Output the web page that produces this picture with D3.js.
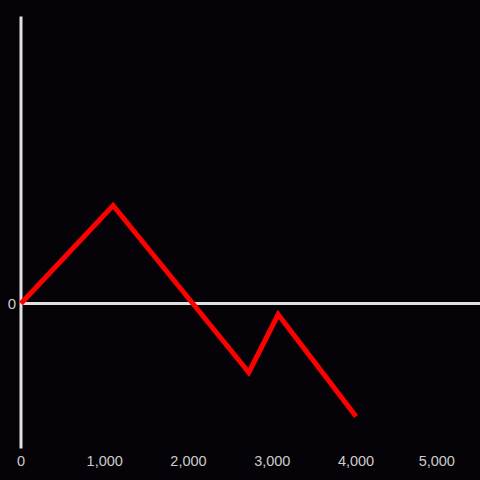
<!DOCTYPE html>
<html>
<head>
<meta charset="utf-8">
<script src="https://cdn.jsdelivr.net/npm/d3@7"></script>
<style>
  body { margin: 0; background: #050307; }
  text { font-family: "Liberation Sans", Arial, sans-serif; }
</style>
</head>
<body>
<div id="chart"></div>
<script>
// data
var xValues = [0, 1100, 2720, 3070, 4000];
var yValues = [0, 0.98, -0.69, -0.11, -1.13];
var xTicks = [0, 1000, 2000, 3000, 4000, 5000];
var yTicks = [0];

var w = 480, h = 480;

var svg = d3.select("#chart")
  .append("svg")
  .attr("width", w)
  .attr("height", h)
  .style("background", "#050307");

var x = d3.scaleLinear().domain([0, 5480]).range([21, 480]);
var y = d3.scaleLinear().domain([-1.45, 2.87]).range([448.5, 16.5]);

// x tick labels
svg.append("g")
  .selectAll("text")
  .data(xTicks)
  .enter()
  .append("text")
  .attr("x", function(d) { return x(d) - (d == 5000 ? 3 : 0); })
  .attr("y", 466)
  .attr("text-anchor", "middle")
  .attr("font-size", 14.5)
  .attr("fill", "#cccccc")
  .text(d3.format(","));

// y tick labels
svg.append("g")
  .selectAll("text")
  .data(yTicks)
  .enter()
  .append("text")
  .attr("x", 16)
  .attr("y", function(d) { return y(d) + 5.5; })
  .attr("text-anchor", "end")
  .attr("font-size", 15)
  .attr("fill", "#cccccc")
  .text(function(d) { return d; });

// zero line
svg.append("line")
  .attr("x1", x(0)).attr("x2", 480)
  .attr("y1", y(0)).attr("y2", y(0))
  .attr("stroke", "#e0e0e0")
  .attr("stroke-width", 3);

// y axis line
svg.append("line")
  .attr("x1", x(0)).attr("x2", x(0))
  .attr("y1", y.range()[1]).attr("y2", y.range()[0])
  .attr("stroke", "#e0e0e0")
  .attr("stroke-width", 3);

var line = d3.line()
  .x(function(d, i) { return x(xValues[i]); })
  .y(function(d) { return y(d); });

svg.append("path")
  .datum(yValues)
  .attr("d", line)
  .attr("fill", "none")
  .attr("stroke", "#ff0000")
  .attr("stroke-width", 5)
  .attr("stroke-linejoin", "miter");
</script>
</body>
</html>
